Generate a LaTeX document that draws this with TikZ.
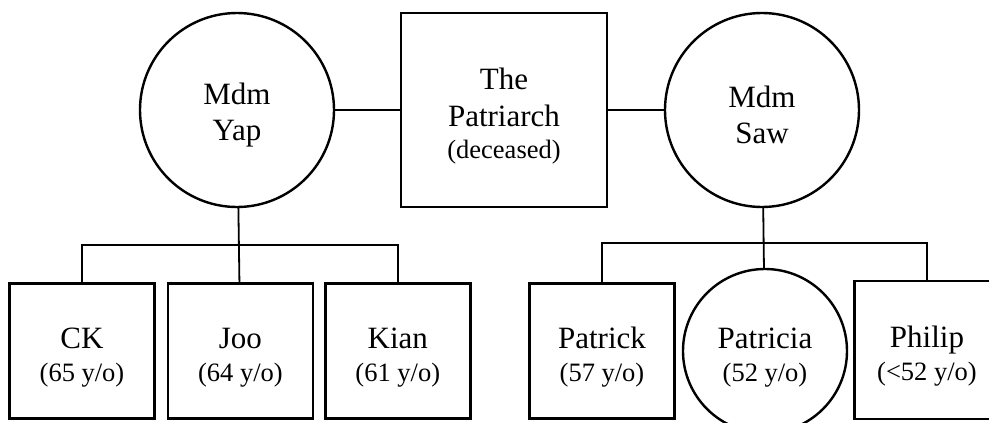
\documentclass[tikz,border=0pt]{standalone}
\usepackage{fontspec}
\setmainfont{Liberation Serif}
\usetikzlibrary{positioning}
\newcommand{\nm}{\fontsize{31}{36}\selectfont}
\newcommand{\ag}{\fontsize{26.5}{32}\selectfont}
\newcommand{\topgap}[1]{\rule{0pt}{#1}}

\begin{document}
\begin{tikzpicture}[x=1pt,y=-1pt,
male/.style={draw,line width=2.4pt,minimum width=145pt,minimum height=135pt,inner sep=0pt,align=center,font=\nm},
female/.style={draw,circle,line width=2.4pt,inner sep=0pt,align=center,font=\nm},
link/.style={line width=1.8pt}
]
\useasboundingbox (0,0) rectangle (989,423);

\node[female,minimum size=194pt] (yap) at (237,110) {\topgap{31pt}Mdm\\Yap};
\node[male,minimum width=206pt,minimum height=194pt] (patriarch) at (504,110) {\topgap{33pt}The\\[1pt]Patriarch\\[-4pt]{\ag (deceased)}};
\node[female,minimum size=194pt] (saw) at (762,110) {\topgap{31pt}Mdm\\Saw};

\node[male] (ck) at (82,351) {\topgap{33pt}CK\\[-3pt]{\ag (65 y/o)}};
\node[male,right=11pt of ck] (joo) {\topgap{33pt}Joo\\[-3pt]{\ag (64 y/o)}};
\node[male,right=10pt of joo] (kian) {\topgap{33pt}Kian\\[-3pt]{\ag (61 y/o)}};

\node[male] (patrick) at (602,351) {\topgap{33pt}Patrick\\[-3pt]{\ag (57 y/o)}};
\node[female,minimum size=164pt] (patricia) at (765,351) {\topgap{33pt}Patricia\\[-3pt]{\ag (52 y/o)}};
\node[male,minimum height=138pt] (philip) at (927,350) {\topgap{33pt}Philip\\[-3pt]{\ag (<52 y/o)}};

\coordinate (ljoin) at (237,245);
\coordinate (rjoin) at (765,243);

\draw[link] (yap) -- (patriarch);
\draw[link] (patriarch) -- (saw);
\draw[link] (yap) -- (joo);
\draw[link] (ck.north) |- (ljoin) -| (kian.north);
\draw[link] (saw) -- (patricia);
\draw[link] (patrick.north) |- (rjoin) -| (philip.north);
\end{tikzpicture}
\end{document}
